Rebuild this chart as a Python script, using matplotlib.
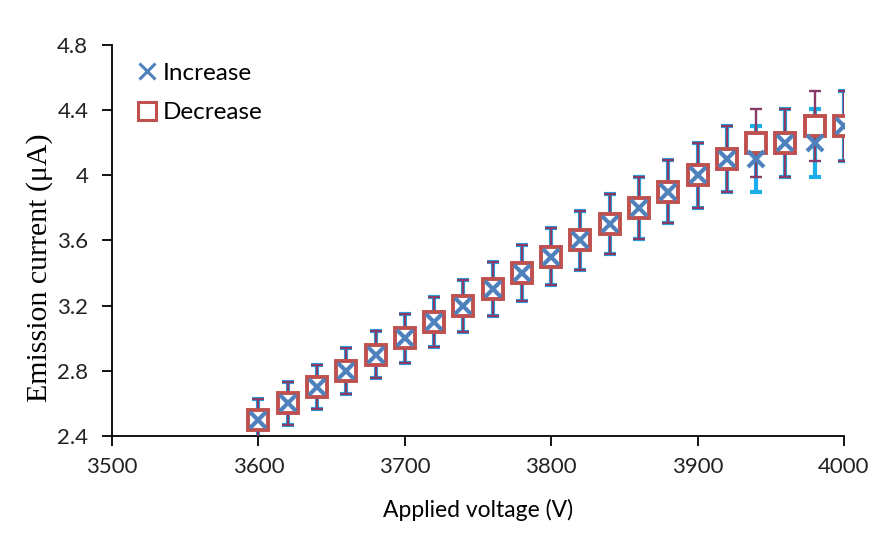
import matplotlib.pyplot as plt

# Applied voltage (V)
voltage = [3600, 3620, 3640, 3660, 3680, 3700, 3720, 3740, 3760, 3780, 3800,
           3820, 3840, 3860, 3880, 3900, 3920, 3940, 3960, 3980, 4000]

# Emission current (uA) while increasing voltage
inc_current = [2.5, 2.6, 2.7, 2.8, 2.9, 3.0, 3.1, 3.2, 3.3, 3.4, 3.5,
               3.6, 3.7, 3.8, 3.9, 4.0, 4.1, 4.1, 4.2, 4.2, 4.3]
inc_err = [0.125, 0.13, 0.135, 0.14, 0.145, 0.15, 0.155, 0.16, 0.165, 0.17, 0.175,
           0.18, 0.185, 0.19, 0.195, 0.2, 0.205, 0.205, 0.21, 0.21, 0.215]

# Emission current (uA) while decreasing voltage
dec_current = [2.5, 2.6, 2.7, 2.8, 2.9, 3.0, 3.1, 3.2, 3.3, 3.4, 3.5,
               3.6, 3.7, 3.8, 3.9, 4.0, 4.1, 4.2, 4.2, 4.3, 4.3]
dec_err = [0.125, 0.13, 0.135, 0.14, 0.145, 0.15, 0.155, 0.16, 0.165, 0.17, 0.175,
           0.18, 0.185, 0.19, 0.195, 0.2, 0.205, 0.21, 0.21, 0.215, 0.215]

x_ticks = [3500, 3600, 3700, 3800, 3900, 4000]
y_ticks = [2.4, 2.8, 3.2, 3.6, 4.0, 4.4, 4.8]
y_labels = ['2.4', '2.8', '3.2', '3.6', '4', '4.4', '4.8']

fig = plt.figure(figsize=(8.74, 5.43), dpi=100)
ax = fig.add_axes([112 / 874, 1 - 436 / 543, (844 - 112) / 874, (436 - 45) / 543])

# error bars: increase in cyan (thick), decrease in red (thinner) on top
ax.errorbar(voltage, inc_current, yerr=inc_err, fmt='none', ecolor='#1AAEEA',
            elinewidth=3, capsize=4.5, capthick=3, zorder=2)
ax.errorbar(voltage, dec_current, yerr=dec_err, fmt='none', ecolor='#8A3A66',
            elinewidth=1.7, capsize=4.5, capthick=1.7, zorder=3)

ax.plot(voltage, dec_current, linestyle='none', marker='s', markersize=14,
        markerfacecolor='white', markeredgecolor='#C0504D', markeredgewidth=2.8,
        label='Decrease', zorder=4)
ax.plot(voltage, inc_current, linestyle='none', marker='x', markersize=12,
        markeredgecolor='#4F81BD', markeredgewidth=3, label='Increase', zorder=5)

ax.set_xlim(3500, 4000)
ax.set_ylim(2.4, 4.8)
ax.set_xticks(x_ticks)
ax.set_yticks(y_ticks)
ax.set_yticklabels(y_labels)

for s in ['top', 'right']:
    ax.spines[s].set_visible(False)
for s in ['left', 'bottom']:
    ax.spines[s].set_linewidth(1.3)
    ax.spines[s].set_color('black')

ax.tick_params(axis='both', direction='out', length=7, width=1.3,
               labelsize=16, colors='black')
ax.tick_params(axis='x', pad=8)
ax.tick_params(axis='y', pad=10)
for lbl in ax.get_xticklabels() + ax.get_yticklabels():
    lbl.set_family('Lato')
    lbl.set_color('#222222')

ax.set_xlabel('Applied voltage (V)', fontsize=16.5, family='Lato', labelpad=16)
ax.set_ylabel('Emission current (\u03bcA)', fontsize=21.5, family='Liberation Serif')
ax.yaxis.set_label_coords(-0.08, 0.43)

handles, labels = ax.get_legend_handles_labels()
leg = ax.legend(handles[::-1], labels[::-1], loc='upper left',
                bbox_to_anchor=(0.0, 1.01), frameon=False,
                prop={'family': 'Lato', 'size': 17.5}, handletextpad=0.15,
                labelspacing=0.75, handlelength=1.05, markerscale=0.95)
for h in leg.legend_handles:
    h.set_markeredgewidth(2.2)

fig.savefig('out.png', dpi=100)
